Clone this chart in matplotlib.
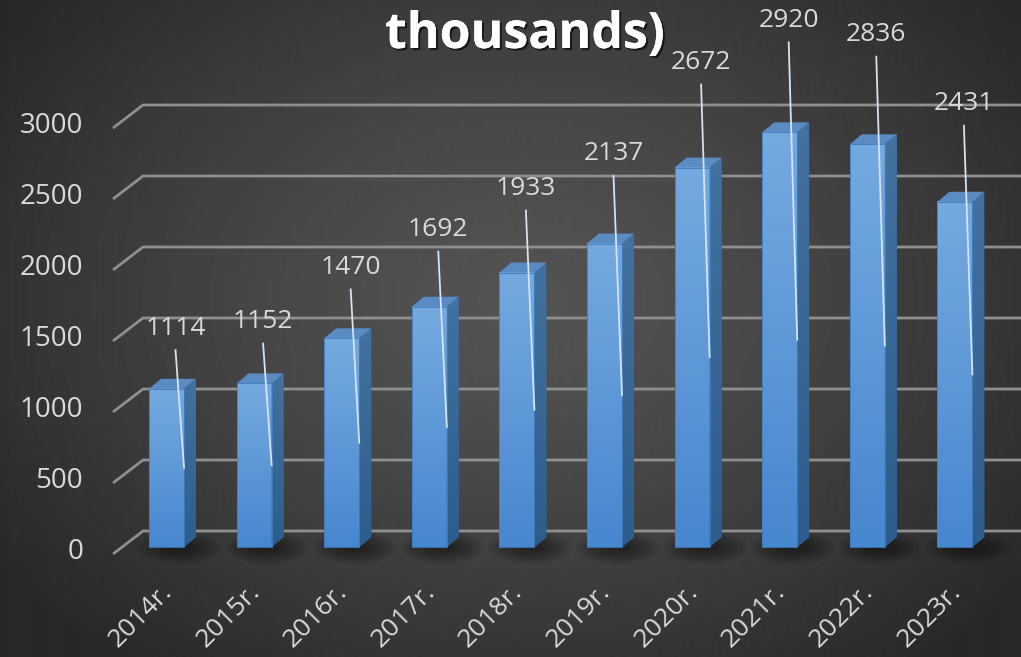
import numpy as np
import matplotlib
matplotlib.use("Agg")
import matplotlib.pyplot as plt
from matplotlib.patches import Polygon, Rectangle, Ellipse
from matplotlib.colors import LinearSegmentedColormap
import matplotlib.patheffects as pe

# ---- data ----
categories = ["2014r.", "2015r.", "2016r.", "2017r.", "2018r.",
              "2019r.", "2020r.", "2021r.", "2022r.", "2023r."]
values = [1114, 1152, 1470, 1692, 1933, 2137, 2672, 2920, 2836, 2431]
y_ticks = [0, 500, 1000, 1500, 2000, 2500, 3000]
title_text = "thousands)"

FONT = "Open Sans"
W, H = 1021, 657
fig = plt.figure(figsize=(W / 100, H / 100), dpi=100)

# ---- background radial gradient ----
bg = fig.add_axes([0, 0, 1, 1])
yy, xx = np.mgrid[0:H, 0:W]
r = np.sqrt(((xx - 520) / 640.0) ** 2 + ((yy - 300) / 470.0) ** 2)
r = np.clip(r, 0, 1)
inner, outer = 84, 40
img = inner - (inner - outer) * r ** 1.3
bg.imshow(img, cmap="gray", vmin=0, vmax=255, extent=[0, W, H, 0], aspect="auto")
bg.set_axis_off()

# ---- main axes in (category, value) coordinates ----
px_per_cat = 87.6          # horizontal distance between bars in pixels
px_per_val = 0.142         # pixels per unit value
x0_px, base_px = 166.5, 547.0
ax = fig.add_axes([0, 0, 1, 1])
ax.set_xlim((0 - x0_px) / px_per_cat, (W - x0_px) / px_per_cat)
ax.set_ylim((base_px - H) / px_per_val, base_px / px_per_val)
ax.set_axis_off()
ax.patch.set_alpha(0)

wall_off = 16 / px_per_val          # back wall offset (value units)
side_x0 = (143 - x0_px) / px_per_cat
side_x1 = (113 - x0_px) / px_per_cat
side_dy = 23 / px_per_val
grid_col = "#8f8f8f"
for g in y_ticks:
    yb = g + wall_off
    ax.plot([side_x1, side_x0, 11], [yb - side_dy, yb, yb], color=grid_col,
            lw=2.0, solid_capstyle="butt", zorder=1)
    ax.text((83 - x0_px) / px_per_cat, yb - side_dy + 2 / px_per_val, f"{g}",
            ha="right", va="center", fontsize=20, color="#d9d9d9",
            family=FONT, zorder=5)

# ---- bars ----
bw = 0.4
ddx = 12 / px_per_cat
ddy = 10 / px_per_val
front_cmap = LinearSegmentedColormap.from_list("f", ["#4787cf", "#75aae0"])
side_cmap = LinearSegmentedColormap.from_list("s", ["#2d5d8c", "#43729f"])
x = np.arange(len(values))

# floor shadows
for i in x:
    for k in range(8):
        s = 1 - k / 8
        ax.add_patch(Ellipse((i + 0.15, -5), 0.75 * s + 0.2, 200 * s + 30,
                             facecolor="black", alpha=0.06, lw=0, zorder=2))

for i, v in zip(x, values):
    xl, xr = i - bw / 2, i + bw / 2
    # front face gradient
    grad = np.linspace(0, 1, 256).reshape(-1, 1)
    ax.imshow(grad, cmap=front_cmap, origin="lower", aspect="auto",
              extent=[xl, xr, 0, v], zorder=3)
    # side face
    side = Polygon([[xr, 0], [xr + ddx, ddy], [xr + ddx, v + ddy], [xr, v]],
                   closed=True, facecolor="#36669a", edgecolor="none", zorder=3)
    ax.add_patch(side)
    simg = ax.imshow(grad, cmap=side_cmap, origin="lower", aspect="auto",
                     extent=[xr, xr + ddx, 0, v + ddy], zorder=3)
    simg.set_clip_path(side)
    # top face
    ax.add_patch(Polygon([[xl, v], [xr, v], [xr + ddx, v + ddy], [xl + ddx, v + ddy]],
                         closed=True, facecolor="#5a8bc3", edgecolor="none", zorder=3))
    ax.add_patch(Rectangle((xl, 0), bw, v, fill=False, edgecolor="#3f7cc0",
                           lw=0.6, zorder=3.5))

    # data label with leader line
    lx = i + 9 / px_per_cat
    ly = 1.2 * v + 205
    ax.text(lx, ly, f"{v}", ha="center", va="center", fontsize=19,
            color="#d9d9d9", family=FONT, zorder=6)
    ax.plot([lx, xr], [ly - 22 / px_per_val, v / 2], color="#d6e2ee", lw=1.3,
            zorder=4)

    # category label
    ax.text(i + 2 / px_per_cat, (base_px - 588) / px_per_val, categories[i],
            rotation=45, rotation_mode="anchor", ha="right", va="center",
            fontsize=19, color="#d9d9d9", family=FONT, zorder=6)

# ---- title (partially cut off at top) ----
fig.text(525 / W, 1 - 48 / H, title_text, ha="center", va="baseline",
         fontsize=36, fontweight="bold", color="white", family=FONT,
         path_effects=[pe.withSimplePatchShadow(offset=(1.5, -1.5),
                                                shadow_rgbFace="black", alpha=0.6),
                       pe.Normal()])

fig.savefig("out.png", dpi=100)
